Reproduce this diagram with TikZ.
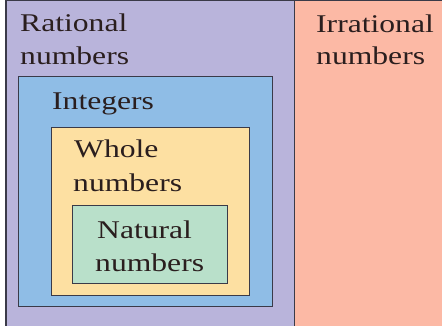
\documentclass[tikz,border=0pt]{standalone}
\usepackage{fontspec}
\setmainfont{Liberation Serif}[FakeStretch=1.24]
\definecolor{ratc}{HTML}{B9B4DB}
\definecolor{irrc}{HTML}{FCB9A5}
\definecolor{intc}{HTML}{8FBDE6}
\definecolor{whc}{HTML}{FDE0A2}
\definecolor{natc}{HTML}{B9E0CA}
\definecolor{edgec}{HTML}{3A3A48}
\definecolor{txtc}{HTML}{2A1E1E}
\tikzset{
  setbox/.style={draw=edgec, line width=1pt, anchor=north west, inner sep=0pt, outer sep=0pt},
  lbl/.style={anchor=base west, inner sep=0pt, text=txtc, font=\fontsize{25.5}{26}\selectfont},
}
\begin{document}
\begin{tikzpicture}[x=1pt,y=-1pt]
\useasboundingbox[fill=white] (0,0) rectangle (442,326);
\node[fill=ratc, anchor=north west, inner sep=0pt, minimum width=288pt, minimum height=326pt] (ratbox) at (6,0) {};
\node[fill=irrc, anchor=north west, inner sep=0pt, minimum width=148pt, minimum height=326pt] (irrbox) at (294,0) {};
\draw[edgec, line width=1.2pt] (ratbox.north west) -- (irrbox.north east);
\draw[edgec, line width=1.2pt] (ratbox.north west) -- (ratbox.south west);
\draw[edgec, line width=1pt] (irrbox.north west) -- (irrbox.south west);
\node[setbox, fill=intc, minimum width=254pt, minimum height=229pt] (intbox) at (18,77) {};
\node[setbox, fill=whc, minimum width=198pt, minimum height=167pt] (whbox) at (51,128) {};
\node[setbox, fill=natc, minimum width=155pt, minimum height=78pt] (natbox) at (72,205) {};
\node[lbl] (rat1) at (20,32) {Rational};
\node[lbl] (rat2) at (20,65) {numbers};
\node[lbl] (irr1) at (316,33) {Irrational};
\node[lbl] (irr2) at (316,65) {numbers};
\node[lbl] (intl) at (52,110) {Integers};
\node[lbl] (wh1) at (74,158) {Whole};
\node[lbl] (wh2) at (73,191) {numbers};
\node[lbl] (nat1) at (97,238) {Natural};
\node[lbl] (nat2) at (95,271) {numbers};
\end{tikzpicture}
\end{document}
